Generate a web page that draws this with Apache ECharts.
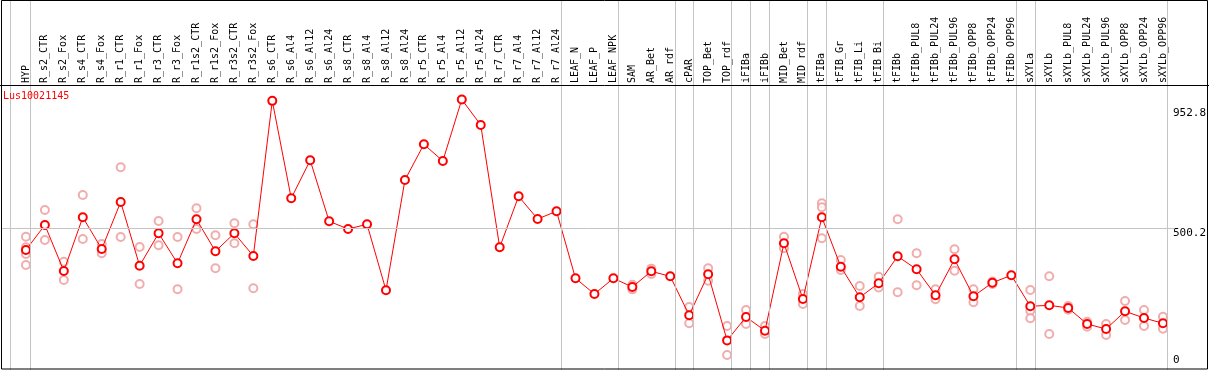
<!DOCTYPE html>
<html lang="en">
<head>
<meta charset="UTF-8">
<title>Lus10021145</title>
<script src="https://cdn.jsdelivr.net/npm/echarts@6.0.0/dist/echarts.min.js"></script>
<style>
    body { margin: 0; background: #fff; }
    #main { width: 1209px; height: 370px; }
</style>
</head>
<body>
<div id="main"></div>
<script>
// gene shown in the chart
var geneName = 'Lus10021145';

// sample names, left to right
var categories = [
    'HYP',
    'R_s2_CTR', 'R_s2_Fox', 'R_s4_CTR', 'R_s4_Fox', 'R_r1_CTR', 'R_r1_Fox', 'R_r3_CTR', 'R_r3_Fox',
    'R_r1s2_CTR', 'R_r1s2_Fox', 'R_r3s2_CTR', 'R_r3s2_Fox',
    'R_s6_CTR', 'R_s6_Al4', 'R_s6_Al12', 'R_s6_Al24', 'R_s8_CTR', 'R_s8_Al4', 'R_s8_Al12', 'R_s8_Al24',
    'R_r5_CTR', 'R_r5_Al4', 'R_r5_Al12', 'R_r5_Al24', 'R_r7_CTR', 'R_r7_Al4', 'R_r7_Al12', 'R_r7_Al24',
    'LEAF_N', 'LEAF_P', 'LEAF_NPK',
    'SAM', 'AR_Bet', 'AR_rdf',
    'cPAR',
    'TOP_Bet', 'TOP_rdf',
    'iFIBa',
    'iFIBb',
    'MID_Bet', 'MID_rdf',
    'tFIBa',
    'tFIB_Gr', 'tFIB_Li', 'tFIB_Bi',
    'tFIBb', 'tFIBb_PUL8', 'tFIBb_PUL24', 'tFIBb_PUL96', 'tFIBb_OPP8', 'tFIBb_OPP24', 'tFIBb_OPP96',
    'sXYLa',
    'sXYLb', 'sXYLb_PUL8', 'sXYLb_PUL24', 'sXYLb_PUL96', 'sXYLb_OPP8', 'sXYLb_OPP24', 'sXYLb_OPP96'
];

// how many samples sit in each block between the grey separators
var groupSizes = [1, 28, 3, 3, 1, 2, 1, 1, 2, 1, 3, 7, 1, 7];

// mean expression per sample
var means = [
    422.7,
    510.7, 348.7, 537.9, 426.2, 591.8, 367.4, 481.5, 375.8,
    530.8, 418.1, 481.5, 401.6,
    948, 604.8, 738.6, 523.8, 496.7, 513.2, 280.7, 669.3,
    795, 736.2, 952.8, 863, 432.2, 611.8, 531.9, 559,
    323, 267.7, 323,
    292.4, 347.6, 330,
    192.7,
    337, 104.3,
    186.7,
    138.4,
    446.3, 250,
    537.9,
    363.9, 256, 305.4,
    400.5, 354.7, 263.1, 389.9, 259.6, 307.5, 333.6,
    224.4,
    227.9, 218.4, 162, 144.4, 206.8, 183.2, 164.5
];

// single replicates per sample (empty where none are drawn)
var replicates = [
    [469.5, 432.2, 408.6, 369.9],
    [563.6, 457.9], [381.5, 317], [616.4, 461.4], [443.8, 411], [714, 468.5], [433.3, 302.9], [524.8, 439.2], [468.5, 284.3],
    [569.6, 496.7], [474.5, 358.2], [516.7, 446.3], [513.2, 287.8],
    [], [], [], [], [], [], [], [],
    [], [], [], [], [], [], [], [],
    [], [], [],
    [300, 284], [357, 338], [],
    [221.9, 164.5],
    [358.2, 314.6], [155, 52.8],
    [211.3, 162],
    [155, 126.8],
    [469.5, 428.6], [267.7, 232.5],
    [587.2, 573, 463.9],
    [387.5, 352.2], [295.9, 225.4], [328.6, 291],
    [530.8, 273.7], [411, 298.3], [284.3, 249], [425.2, 349.8], [284.3, 238.5], [312, 303], [],
    [281.8, 208.9, 182.1],
    [330, 126.8], [225.4, 212], [170, 152.5], [162, 123.3], [243, 176], [211.3, 155], [187.7, 145.5]
];

// labelled values on the right axis
var yTicks = [0, 500.2, 952.8];

var xMin = -1.263, xMax = 60.63;
var yMax = 1303.3;
var mono = 'DejaVu Sans Mono';

var meanData = means.map(function (v, i) { return [i, v]; });
var repData = [];
replicates.forEach(function (list, i) {
    list.forEach(function (v) { repData.push([i, v]); });
});

// separators: left edge, then after the last sample of every block
var sepLines = [{ xAxis: -0.842 }];
var last = -1;
groupSizes.forEach(function (n) {
    last += n;
    sepLines.push({ xAxis: last + 0.24 });
});
sepLines.push({ yAxis: yTicks[1] });

var idx = [];
for (var i = 0; i < categories.length; i++) idx.push(i);

function yAxisFor(value, vAlign, pad) {
    return {
        type: 'value', position: 'right', min: 0, max: yMax, offset: -2,
        axisLine: { show: false }, axisTick: { show: false }, splitLine: { show: false },
        axisLabel: {
            customValues: [value], margin: 0, verticalAlign: vAlign, padding: pad,
            color: '#000', fontFamily: mono, fontSize: 11,
            formatter: function (v) { return String(v); }
        }
    };
}

var myChart = echarts.init(document.getElementById('main'));
var option = {
    animation: false,
    backgroundColor: '#fff',
    title: {
        text: geneName, left: 3, top: 91, padding: 0,
        textStyle: { color: '#ff0000', fontFamily: mono, fontSize: 10, fontWeight: 'normal' }
    },
    grid: { left: 2, right: 31, top: 0, bottom: 0 },
    xAxis: {
        type: 'value', position: 'top', offset: -85, min: xMin, max: xMax,
        axisLine: { show: false }, axisTick: { show: false }, splitLine: { show: false },
        axisLabel: {
            customValues: idx, rotate: 90, margin: 2,
            color: '#000', fontFamily: mono, fontSize: 10,
            formatter: function (v) { return categories[v]; }
        }
    },
    yAxis: [
        yAxisFor(yTicks[1], 'top', [0, 0, 0, 0]),
        yAxisFor(yTicks[2], 'top', [8, 0, 0, 0]),
        yAxisFor(yTicks[0], 'bottom', [0, 0, 4, 0])
    ],
    graphic: [
        {
            type: 'line', z: 100, silent: true,
            shape: { x1: 0, y1: 85.5, x2: 1209, y2: 85.5 },
            style: { stroke: '#000', lineWidth: 1 }
        },
        {
            type: 'rect', z: 100, silent: true,
            shape: { x: 1.5, y: 0.5, width: 1206, height: 368.5 },
            style: { fill: null, stroke: '#000', lineWidth: 1 }
        }
    ],
    series: [
        {
            name: 'replicates', type: 'scatter', z: 2,
            data: repData,
            symbol: 'emptyCircle', symbolSize: 8,
            itemStyle: { color: '#ee9999', borderWidth: 1.2 },
            markLine: {
                silent: true, symbol: ['none', 'none'], label: { show: false },
                lineStyle: { color: '#c4c4c4', type: 'solid', width: 1 },
                data: sepLines
            }
        },
        {
            name: geneName, type: 'line', z: 3,
            data: meanData,
            symbol: 'emptyCircle', symbolSize: 8,
            lineStyle: { color: '#ff0000', width: 1 },
            itemStyle: { color: '#ff0000', borderWidth: 1.5 }
        }
    ]
};
myChart.setOption(option);
</script>
</body>
</html>
